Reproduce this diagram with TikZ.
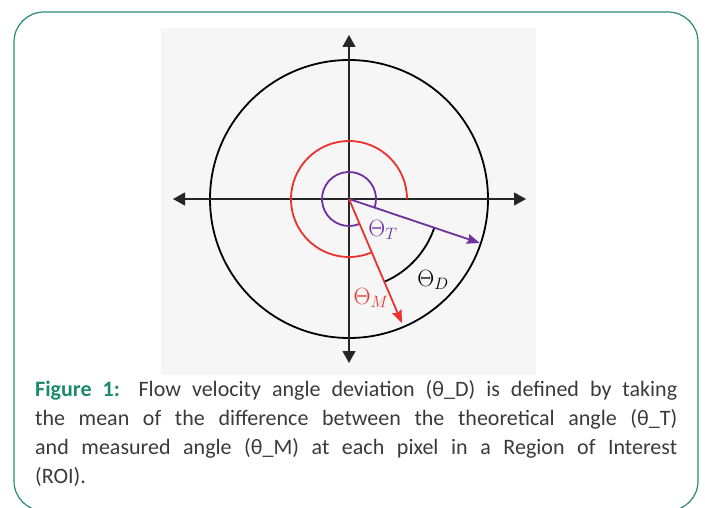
\RequirePackage{fix-cm}
\documentclass[tikz,border=0pt]{standalone}
\usepackage{fontspec}
\setmainfont{Carlito}
\usetikzlibrary{arrows.meta,calc}
\definecolor{framec}{HTML}{2A8A72}
\definecolor{panelc}{HTML}{F6F6F6}
\definecolor{captc}{HTML}{3A3A3A}
\definecolor{purpc}{HTML}{7030A0}
\definecolor{redc}{HTML}{E8332F}
\definecolor{figc}{HTML}{1E8A6C}
\begin{document}
\begin{tikzpicture}[x=1pt,y=1pt,
  axis/.style={draw=black!85, line width=1.2pt, -{Triangle[length=12pt,width=13pt]}},
  vec/.style={line width=1.8pt, -{Stealth[length=13pt,width=10pt,inset=2pt]}},
  arcline/.style={line width=1.8pt},
  lbl/.style={inner sep=0pt, font=\fontsize{23.5}{27}\selectfont},
  capline/.style={anchor=base west, inner sep=0pt, text=captc, font=\fontsize{22}{27}\selectfont}]
\useasboundingbox (0,0) rectangle (705,507);
\begin{scope}
  \clip (0,0) rectangle (705,507);
  \draw[framec, line width=1.2pt, rounded corners=30pt] (14,-4) rectangle (698,495);
\end{scope}
\fill[panelc] (161,132) rectangle (536,479);
\coordinate (O) at (349,308);
\coordinate (L) at (173,308);
\coordinate (R) at (526,308);
\coordinate (T) at (349,472);
\coordinate (B) at (349,144);
% big circle
\draw[line width=1.8pt] (O) circle[radius=139];
% axes
\draw[axis] (O) -- (L);
\draw[axis] (O) -- (R);
\draw[axis] (O) -- (T);
\draw[axis] (O) -- (B);
% red arc
\draw[redc, arcline] (O) ++(0:58) arc[start angle=0, end angle=292.5, radius=58];
% purple arc
\draw[purpc, arcline] (O) ++(-18.6:27) arc[start angle=-18.6, end angle=293.1, radius=27];
% deviation arc
\draw[black, arcline] (O) ++(-18.6:90) arc[start angle=-18.6, end angle=-66.9, radius=90];
% vectors
\coordinate (PT) at ($(O)+(-18.6:138)$);
\coordinate (RT) at ($(O)+(-66.9:135)$);
\draw[purpc, vec] (O) -- (PT);
\draw[redc, vec] (O) -- (RT);
% labels
\node[lbl, text=purpc] (lT) at (383,277) {$\Theta_T$};
\node[lbl, text=black] (lD) at (433,227) {$\Theta_D$};
\node[lbl, text=redc] (lM) at (371,209) {$\Theta_M$};
% caption
\node[capline] (c1) at (35,111) {\makebox[642pt][s]{\textcolor{figc}{\textbf{Figure 1:}} Flow velocity angle deviation (θ\_D) is defined by taking}};
\node[capline] (c2) at (35,82) {\makebox[642pt][s]{the mean of the difference between the theoretical angle (θ\_T)}};
\node[capline] (c3) at (35,53) {\makebox[642pt][s]{and measured angle (θ\_M) at each pixel in a Region of Interest}};
\node[capline] (c4) at (35,24) {(ROI).};
\end{tikzpicture}
\end{document}
